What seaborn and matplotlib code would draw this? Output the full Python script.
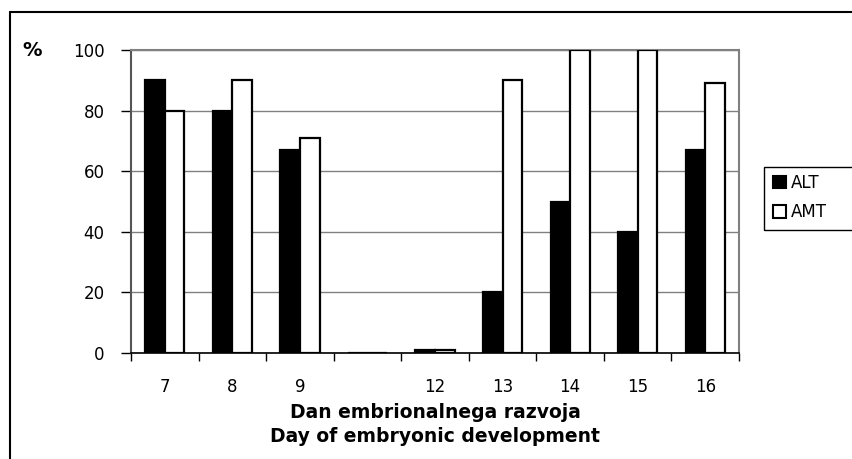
import numpy as np
import pandas as pd
import matplotlib
matplotlib.use("Agg")
import matplotlib.pyplot as plt
import seaborn as sns
from matplotlib.patches import Rectangle
from matplotlib.ticker import FixedLocator

# podatki odčitani s slike
days = ["7", "8", "9", "", "12", "13", "14", "15", "16"]
alt = [90, 80, 67, 0, 1, 20, 50, 40, 67]
amt = [80, 90, 71, 0, 1, 90, 100, 100, 89]
series = ["ALT", "AMT"]
y_ticks = [0, 20, 40, 60, 80, 100]

df = pd.DataFrame({
    "day": days * 2,
    "val": alt + amt,
    "group": ["ALT"] * len(days) + ["AMT"] * len(days),
})

sns.set_style("white")
plt.rcParams["font.family"] = ["DejaVu Sans"]
plt.rcParams["text.color"] = "black"
plt.rcParams["xtick.color"] = "black"
plt.rcParams["ytick.color"] = "black"
plt.rcParams["axes.labelcolor"] = "black"

fig = plt.figure(figsize=(8.53, 4.59), dpi=100)
ax = fig.add_axes([0.1536, 0.2309, 0.7128, 0.6601])

sns.barplot(data=df, x="day", y="val", hue="group", order=days, hue_order=series,
            palette={"ALT": "black", "AMT": "white"}, edgecolor="black",
            linewidth=1.6, width=0.58, gap=0, ax=ax, legend=False, zorder=3)

ax.set_xlim(-0.5, len(days) - 0.5)
ax.set_ylim(0, 100)
ax.set_yticks(y_ticks)
ax.yaxis.grid(True, color="#808080", linewidth=1.0, zorder=0)
ax.set_axisbelow(True)

ax.xaxis.set_minor_locator(FixedLocator(np.arange(-0.5, len(days), 1.0)))
ax.tick_params(axis="x", which="both", bottom=True)
ax.tick_params(axis="y", which="major", left=True)
ax.tick_params(axis="x", which="major", length=0, pad=18, labelsize=12)
ax.tick_params(axis="x", which="minor", length=6, width=1, color="black", direction="out")
ax.tick_params(axis="y", length=7, width=1, color="black", direction="out", pad=12, labelsize=12)
ax.set_xlabel("")
ax.set_ylabel("")

for side in ["top", "right"]:
    ax.spines[side].set_visible(True)
    ax.spines[side].set_color("#808080")
    ax.spines[side].set_linewidth(1.5)
ax.spines["left"].set_color("#555555")
ax.spines["left"].set_linewidth(1.5)
ax.spines["bottom"].set_color("black")
ax.spines["bottom"].set_linewidth(1.2)

xc = 0.5 * (0.1536 * 2 + 0.7128)
fig.text(xc, 1 - 412 / 459, "Dan embrionalnega razvoja",
         ha="center", va="center", fontsize=13.5, fontweight="bold")
fig.text(xc, 1 - 437 / 459, "Day of embryonic development",
         ha="center", va="center", fontsize=13.5, fontweight="bold")
fig.text(22 / 853, 1 - 51 / 459, "%", ha="left", va="center", fontsize=14, fontweight="bold")

handles = [Rectangle((0, 0), 1, 1, facecolor="black", edgecolor="black", linewidth=1.5),
           Rectangle((0, 0), 1, 1, facecolor="white", edgecolor="black", linewidth=1.5)]
leg = fig.legend(handles, series, loc="upper left", bbox_to_anchor=(766 / 853, 1 - 167 / 459),
                 frameon=False, fontsize=12,
                 handlelength=0.8, handleheight=0.8, handletextpad=0.3,
                 borderpad=0.4, labelspacing=0.7, borderaxespad=0)
# okvir legende sega do roba slike
fig.add_artist(Rectangle((764 / 853, 1 - 230 / 459), 0.2, 63 / 459, transform=fig.transFigure,
                         facecolor="none", edgecolor="black", linewidth=1.0))

# okvir slike
fig.add_artist(plt.Line2D([10 / 853, 10 / 853], [0, 1 - 12 / 459], color="black", linewidth=1.5))
fig.add_artist(plt.Line2D([10 / 853, 1], [1 - 12 / 459, 1 - 12 / 459], color="black", linewidth=1.5))

fig.savefig("out.png", dpi=100)
